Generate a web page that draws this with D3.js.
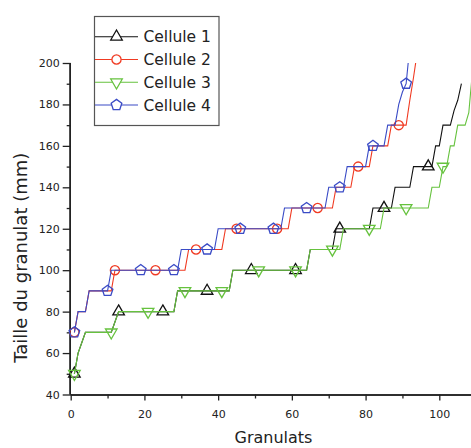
<!DOCTYPE html>
<html>
<head>
<meta charset="utf-8">
<script src="https://cdn.jsdelivr.net/npm/d3@7"></script>
<style>
  html, body { margin: 0; padding: 0; background: #fff; }
  svg { display: block; }
  text { font-family: "DejaVu Sans", sans-serif; fill: #222; }
</style>
</head>
<body>
<svg id="chart" width="471" height="448"></svg>
<script>
// ---- data (sorted granulate sizes, run-length: size and count) ----
const seriesNames = ["Cellule 1", "Cellule 2", "Cellule 3", "Cellule 4"];

const cell1Sizes  = [50, 60, 65, 70, 75, 80, 90, 100, 110, 120, 130, 140, 150, 160, 170, 177, 182, 190];
const cell1Counts = [ 1,  1,  1,  8,  1, 16, 15,  21,   7,  10,   6,   5,   6,   2,   3,   1,   1,   1];

const cell2Sizes  = [70, 80, 90, 100, 110, 120, 130, 140, 150, 160, 170, 182, 193, 205];
const cell2Counts = [ 1,  3,  7,  20,  10,  18,  12,   5,   5,   5,   5,   1,   1,   1];

const cell3Sizes  = [50, 60, 65, 70, 75, 80, 90, 100, 110, 120, 130, 140, 150, 160, 170, 176, 196];
const cell3Counts = [ 1,  1,  1,  8,  1, 16, 15,  21,   9,  11,  13,   3,   2,   2,   3,   1,   1];

const cell4Sizes  = [70, 80, 90, 100, 110, 120, 130, 140, 150, 160, 170, 180, 186, 190, 208];
const cell4Counts = [ 1,  3,  6,  19,  10,  18,  12,   5,   6,   5,   3,   1,   1,   1,   1];

// indices of the points that carry a marker
const cell1Markers = [1, 13, 25, 37, 49, 61, 73, 85, 97];
const cell2Markers = [1, 12, 23, 34, 45, 56, 67, 78, 89];
const cell3Markers = [1, 11, 21, 31, 41, 51, 61, 71, 81, 91, 101];
const cell4Markers = [1, 10, 19, 28, 37, 46, 55, 64, 73, 82, 91];

const xTicks = [0, 20, 40, 60, 80, 100];
const yTicks = [40, 60, 80, 100, 120, 140, 160, 180, 200];

const xTitle = "Granulats";
const yTitle = "Taille du granulat (mm)";

// ---- build point lists (index, size) ----
function expand(sizes, counts) {
  const pts = [];
  let i = 1;
  sizes.forEach((s, k) => {
    for (let c = 0; c < counts[k]; c++) { pts.push({ x: i, y: s }); i++; }
  });
  return pts;
}

const series = [
  { name: seriesNames[0], pts: expand(cell1Sizes, cell1Counts), markers: cell1Markers, color: "#111111", shape: "triUp" },
  { name: seriesNames[1], pts: expand(cell2Sizes, cell2Counts), markers: cell2Markers, color: "#f03a22", shape: "circle" },
  { name: seriesNames[2], pts: expand(cell3Sizes, cell3Counts), markers: cell3Markers, color: "#66c23e", shape: "triDown" },
  { name: seriesNames[3], pts: expand(cell4Sizes, cell4Counts), markers: cell4Markers, color: "#3a4bc6", shape: "pentagon" }
];

// ---- layout ----
const svg = d3.select("#chart");
const x0 = 70.7, y0 = 394.5, yTop = 63;
const x = d3.scaleLinear().domain([0, 110]).range([x0, x0 + 110 * 3.686]);
const y = d3.scaleLinear().domain([40, 200]).range([y0, yTop]);

svg.append("defs").append("clipPath").attr("id", "plotclip")
  .append("rect").attr("x", x0).attr("y", yTop).attr("width", 471 - x0).attr("height", y0 - yTop);

// ---- axes ----
const axisColor = "#222";
const yAxisG = svg.append("g").attr("transform", `translate(${x0},0)`)
  .call(d3.axisLeft(y).tickValues(yTicks).tickSize(8).tickPadding(3).tickFormat(d3.format("d")));
const yMinor = svg.append("g").attr("transform", `translate(${x0},0)`)
  .call(d3.axisLeft(y).tickValues(d3.range(50, 200, 20)).tickSize(4).tickFormat(""));
const xAxisG = svg.append("g").attr("transform", `translate(0,${y0})`)
  .call(d3.axisBottom(x).tickValues(xTicks).tickSize(6).tickPadding(10).tickFormat(d3.format("d")));
const xMinor = svg.append("g").attr("transform", `translate(0,${y0})`)
  .call(d3.axisBottom(x).tickValues(d3.range(10, 110, 20)).tickSize(4).tickFormat(""));

[yAxisG, yMinor, xAxisG, xMinor].forEach(g => {
  g.selectAll(".domain").attr("stroke", axisColor).attr("stroke-width", 1.5);
  g.selectAll(".tick line").attr("stroke", axisColor).attr("stroke-width", 1.3);
  g.selectAll("text").style("font-family", "DejaVu Sans").style("font-size", "11px").attr("fill", "#222");
});
xAxisG.select(".domain").attr("d", `M${x0},0.5H471`);
xMinor.select(".domain").attr("d", `M${x0},0.5H471`);
yAxisG.select(".domain").attr("d", `M-0.5,${yTop}V${y0}`);
yMinor.select(".domain").attr("d", `M-0.5,${yTop}V${y0}`);

// axis titles
svg.append("text").attr("x", 273.5).attr("y", 443).attr("text-anchor", "middle")
  .style("font-size", "16px").text(xTitle);
svg.append("text").attr("transform", "translate(26.5,257.7) rotate(-90)")
  .attr("text-anchor", "middle").style("font-size", "18px").text(yTitle);

// ---- markers ----
function pentagonPath(r) {
  const p = [];
  for (let k = 0; k < 5; k++) {
    const a = -Math.PI / 2 + k * 2 * Math.PI / 5;
    p.push([r * Math.cos(a), r * Math.sin(a)]);
  }
  return "M" + p.map(d => d.join(",")).join("L") + "Z";
}
function markerPath(shape) {
  if (shape === "triUp") return d3.symbol(d3.symbolTriangle, 58)();
  if (shape === "triDown") return d3.symbol(d3.symbolTriangle, 58)();
  if (shape === "circle") return d3.symbol(d3.symbolCircle, 66)();
  return pentagonPath(5.6);
}
function markerRot(shape) { return shape === "triDown" ? " rotate(180)" : ""; }

// ---- lines ----
const line = d3.line().x(d => x(d.x)).y(d => y(d.y));
const plot = svg.append("g");
series.forEach(s => {
  plot.append("path").attr("d", line(s.pts)).attr("fill", "none")
    .attr("stroke", s.color).attr("stroke-width", 1.1).attr("clip-path", "url(#plotclip)");
  const mk = s.pts.filter(p => s.markers.includes(p.x));
  plot.selectAll(null).data(mk).enter().append("path")
    .attr("d", markerPath(s.shape))
    .attr("transform", d => `translate(${x(d.x)},${y(d.y)})` + markerRot(s.shape))
    .attr("fill", "none").attr("stroke", s.color).attr("stroke-width", 1.3);
});

// ---- legend ----
const lg = svg.append("g");
lg.append("rect").attr("x", 94.5).attr("y", 16.5).attr("width", 124.5).attr("height", 109)
  .attr("fill", "#fff").attr("stroke", "#555").attr("stroke-width", 1.2);
const rowY = [36.7, 59.5, 82.3, 105];
series.forEach((s, i) => {
  const gy = rowY[i];
  lg.append("line").attr("x1", 95).attr("x2", 138).attr("y1", gy).attr("y2", gy)
    .attr("stroke", s.color).attr("stroke-width", 1.1);
  lg.append("path").attr("d", markerPath(s.shape))
    .attr("transform", `translate(116.5,${gy})` + markerRot(s.shape))
    .attr("fill", "#fff").attr("stroke", s.color).attr("stroke-width", 1.3);
  lg.append("text").attr("x", 143.5).attr("y", gy + 5.6).style("font-size", "15.5px").text(s.name);
});
</script>
</body>
</html>
